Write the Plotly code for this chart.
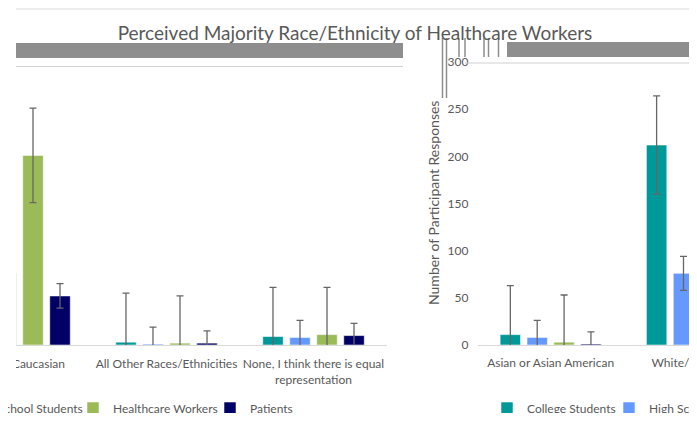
import plotly.graph_objects as go

# ---------------- data ----------------
categories = ["Asian or Asian American", "White/Caucasian",
              "All Other Races/Ethnicities",
              "None, I think there is equal representation"]
tick_labels = ["Asian or Asian American", "White/Caucasian",
               "All Other Races/Ethnicities",
               "None, I think there is equal<br>representation"]
series_names = ["College Students", "High School Students",
                "Healthcare Workers", "Patients"]
college = [11, 212, 3, 9]
high_school = [8, 76, 1, 8]
healthcare = [3, 201, 2, 11]
patients = [1, 52, 2, 10]
college_err = [52, 52, 52, 52]
high_school_err = [18, 18, 18, 18]
healthcare_err = [50, 50, 50, 50]
patients_err = [13, 13, 13, 13]
y_ticks = [0, 50, 100, 150, 200, 250, 300]
title_text = "Perceived Majority Race/Ethnicity of Healthcare Workers"
y_title = "Number of Participant Responses"

values = [college, high_school, healthcare, patients]
errors = [college_err, high_school_err, healthcare_err, patients_err]
colors = ["#009999", "#6699FF", "#9BBB59", "#000066"]
legend_widths = [77, 98, 92, 60]   # legend entry text widths (px)

OFF = 8                      # page body margin of the browser
W, H = 697 - OFF, 421 - 2 * OFF
TOP, BASE = 62, 345          # reference pixel rows of y=300 and y=0
FONT = "Lato"
GRAY = "#595959"


def fx(x):
    """reference pixel column -> figure pixel"""
    return x - OFF


def px(x):
    return fx(x) / W


def py(y):
    return (BASE - y) / (BASE - TOP)


fig = go.Figure()

for xa, ya, leg in [("x", "y", "legend2"), ("x2", "y2", "legend")]:
    for name, vals, errs, col, lw in zip(series_names, values, errors,
                                         colors, legend_widths):
        fig.add_trace(go.Bar(
            x=categories, y=vals, name=name, xaxis=xa, yaxis=ya, legend=leg,
            legendwidth=lw,
            marker=dict(color=col, line=dict(color="rgba(255,255,255,0.55)", width=1)),
            error_y=dict(type="data", array=errs, color="#666666",
                         thickness=1.3, width=3.5),
        ))

CW = 147.0                   # category width in pixels
left_start, left_end = 16, 387
right_start = 477.5
left_range = [3.5 - (left_end - left_start) / CW, 3.5]
right_range = [-0.5, max(1.0005, -0.5 + (W - fx(right_start)) / CW)]

common_x = dict(type="category", tickvals=categories, ticktext=tick_labels,
                ticks="", tickangle=0, showgrid=False, showline=True,
                linecolor="#d9d9d9", linewidth=1, zeroline=False,
                tickfont=dict(family=FONT, size=12, color=GRAY))
common_y = dict(range=[0, 300], tickvals=y_ticks, showgrid=False,
                zeroline=False, showline=False, ticks="",
                tickfont=dict(family=FONT, size=12, color=GRAY))

fig.update_layout(
    width=W, height=H,
    paper_bgcolor="white", plot_bgcolor="white",
    margin=dict(l=0, r=0, t=TOP - OFF, b=H - (BASE - OFF), autoexpand=False),
    barmode="group", bargap=0.265, bargroupgap=0.24,
    xaxis=dict(domain=[px(left_start), px(left_end)], range=left_range,
               anchor="y", ticklabelstandoff=8, **common_x),
    yaxis=dict(domain=[0, 1], anchor="x", showticklabels=False, **common_y),
    xaxis2=dict(domain=[px(right_start), 1], range=right_range,
                anchor="y2", ticklabelstandoff=7, **common_x),
    yaxis2=dict(domain=[0, 1], anchor="x2", showticklabels=True,
                ticklabelstandoff=8, **common_y),
    title=dict(text=title_text, x=px(355), xanchor="center",
               y=1 - (33 - OFF) / H, yanchor="middle",
               font=dict(family=FONT, size=19, color=GRAY)),
    showlegend=True,
    legend=dict(orientation="h", x=(fx(527) - 40) / W, xanchor="left",
                y=py(408), yanchor="middle", bgcolor="rgba(0,0,0,0)",
                font=dict(family=FONT, size=12, color=GRAY)),
    legend2=dict(orientation="h", x=(fx(113) - 305) / W, xanchor="left",
                 y=py(408), yanchor="middle", bgcolor="rgba(0,0,0,0)",
                 font=dict(family=FONT, size=12, color=GRAY)),
    annotations=[
        dict(text=y_title, xref="paper", yref="paper",
             x=px(433), y=py(203), textangle=-90, showarrow=False,
             font=dict(family=FONT, size=14, color=GRAY)),
    ],
)

shapes = []
band = "#8e8e8e"
# screen-capture artefacts of the reference
shapes.append(dict(type="rect", xref="paper", yref="paper",
                   x0=px(16), x1=px(403), y0=py(58), y1=py(43),
                   fillcolor=band, line=dict(width=0), layer="above"))
shapes.append(dict(type="rect", xref="paper", yref="paper",
                   x0=px(507), x1=1.0, y0=py(57), y1=py(42),
                   fillcolor=band, line=dict(width=0), layer="above"))
shapes.append(dict(type="line", xref="paper", yref="paper",
                   x0=px(16), x1=px(693), y0=py(9), y1=py(9),
                   line=dict(color="#d9d9d9", width=1)))
shapes.append(dict(type="line", xref="paper", yref="paper",
                   x0=px(16), x1=px(403), y0=py(66.5), y1=py(66.5),
                   line=dict(color="#d0d0d0", width=1)))
shapes.append(dict(type="line", xref="paper", yref="paper",
                   x0=px(465), x1=1.0, y0=py(63), y1=py(63),
                   line=dict(color="#d0d0d0", width=1)))
for xv, y0v, y1v in [(442.5, 38, 98), (446.5, 38, 98), (459, 38, 57),
                     (465, 38, 57), (484, 38, 57), (488.5, 38, 57),
                     (498.5, 38, 57)]:
    shapes.append(dict(type="line", xref="paper", yref="paper",
                       x0=px(xv), x1=px(xv), y0=py(y0v), y1=py(y1v),
                       line=dict(color="#8c8c8c", width=1.5), layer="above"))
shapes.append(dict(type="rect", xref="paper", yref="paper",
                   x0=-0.05, x1=px(16), y0=-0.4, y1=1.4,
                   fillcolor="white", line=dict(width=0), layer="above"))
fig.update_layout(shapes=shapes)

fig.write_html("out.html")
